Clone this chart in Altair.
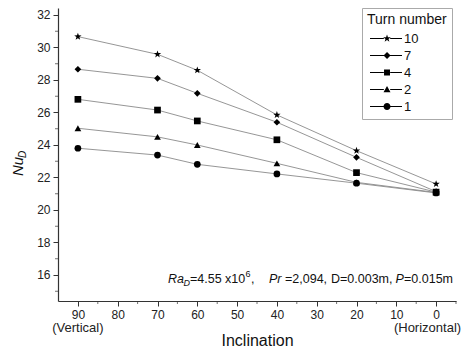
import math
import altair as alt
import pandas as pd

# ---- data ----
inclination = [90, 70, 60, 40, 20, 0]
turns = ["10", "7", "4", "2", "1"]
nu_10 = [30.67, 29.58, 28.60, 25.85, 23.65, 21.60]
nu_7 = [28.66, 28.10, 27.18, 25.40, 23.24, 21.13]
nu_4 = [26.81, 26.15, 25.48, 24.32, 22.30, 21.10]
nu_2 = [25.03, 24.50, 24.00, 22.87, 21.70, 21.08]
nu_1 = [23.80, 23.38, 22.81, 22.22, 21.65, 21.05]

x_ticks = [90, 80, 70, 60, 50, 40, 30, 20, 10, 0]
x_minor = [85, 75, 65, 55, 45, 35, 25, 15, 5, -5]
y_ticks = [16, 18, 20, 22, 24, 26, 28, 30, 32]
y_minor = [15, 17, 19, 21, 23, 25, 27, 29, 31]
end_labels = [90, 0]
end_texts = ["(Vertical)", "(Horizontal)"]

series = {"10": nu_10, "7": nu_7, "4": nu_4, "2": nu_2, "1": nu_1}
rows = []
for t in turns:
    for xi, yi in zip(inclination, series[t]):
        rows.append({"incl": xi, "nu": yi, "turn": t})
df = pd.DataFrame(rows)

FONT = "Liberation Sans"
W, H = 398, 293


def star_path(cx=0.0, r_out=1.15, r_in=0.46):
    pts = []
    for k in range(10):
        a = math.radians(-90 + 36 * k)
        r = r_out if k % 2 == 0 else r_in
        pts.append((cx + r * math.cos(a), r * math.sin(a)))
    return "M" + "L".join(f"{x:.3f},{y:.3f}" for x, y in pts) + "Z"


def legend_path(kind, dx=3.86, x0=-1.0, x1=8.14, t=0.12):
    segs = (
        f"M{x0:.2f},{-t}L{dx-0.9:.2f},{-t}L{dx-0.9:.2f},{t}L{x0:.2f},{t}Z"
        f"M{dx+0.9:.2f},{-t}L{x1:.2f},{-t}L{x1:.2f},{t}L{dx+0.9:.2f},{t}Z"
    )
    if kind == "star":
        m = star_path(dx)
    elif kind == "diamond":
        m = f"M{dx-1:.2f},0L{dx:.2f},-1L{dx+1:.2f},0L{dx:.2f},1Z"
    elif kind == "square":
        m = f"M{dx-0.85:.2f},-0.85L{dx+0.85:.2f},-0.85L{dx+0.85:.2f},0.85L{dx-0.85:.2f},0.85Z"
    elif kind == "triangle":
        m = f"M{dx:.2f},-1L{dx+1:.2f},0.8L{dx-1:.2f},0.8Z"
    else:
        m = f"M{dx-1:.2f},0A1,1 0 1,1 {dx+1:.2f},0A1,1 0 1,1 {dx-1:.2f},0Z"
    return segs + m


point_shapes = [star_path(), "diamond", "square", "triangle-up", "circle"]
legend_shapes = [legend_path(k) for k in ["star", "diamond", "square", "triangle", "circle"]]

xscale = alt.Scale(domain=[-5, 95], reverse=True, nice=False, zero=False)
yscale = alt.Scale(domain=[14.4, 32.43], nice=False, zero=False)

x_axis = alt.Axis(
    values=x_ticks,
    title="Inclination",
    titleFontSize=16,
    titleFontWeight="normal",
    titleFont=FONT,
    titleColor="#111",
    titleBaseline="alphabetic",
    titleY=44,
    labelFont=FONT,
    labelFontSize=12,
    labelColor="#222",
    labelPadding=3,
    tickSize=5,
    tickColor="#333",
    domainColor="#333",
    domainWidth=1.2,
    grid=False,
    labelOverlap=False,
)
y_axis = alt.Axis(
    values=y_ticks,
    title=None,
    labelFont=FONT,
    labelFontSize=12,
    labelColor="#222",
    labelPadding=3,
    tickSize=5,
    tickColor="#333",
    domainColor="#333",
    domainWidth=1.2,
    grid=False,
    labelOverlap=False,
)


def X(field):
    return alt.X(field, scale=xscale, axis=x_axis, title="Inclination")


def Y(field):
    return alt.Y(field, scale=yscale, axis=y_axis, title=None)


base = alt.Chart(df)

lines = base.mark_line(color="#8a8a8a", strokeWidth=0.9).encode(
    x=X("incl:Q"), y=Y("nu:Q"), detail="turn:N"
)

points = base.mark_point(filled=True, color="black", size=45, opacity=1).encode(
    x=X("incl:Q"),
    y=Y("nu:Q"),
    shape=alt.Shape("turn:N", scale=alt.Scale(domain=turns, range=point_shapes), legend=None),
)

legend_layer = base.mark_point(filled=True, color="black", size=49, clip=True).encode(
    x=alt.value(-300),
    y=alt.value(-300),
    shape=alt.Shape(
        "turn:N",
        sort=turns,
        scale=alt.Scale(domain=turns, range=legend_shapes),
        legend=alt.Legend(
            title="Turn number",
            orient="none",
            legendX=304,
            legendY=0,
            direction="vertical",
            padding=5,
            fillColor="white",
            strokeColor="#aaa",
            titleFont=FONT,
            titleFontSize=14,
            titleFontWeight="normal",
            titleColor="#111",
            titlePadding=5,
            labelFont=FONT,
            labelFontSize=13,
            labelColor="#111",
            labelOffset=24,
            rowPadding=3,
            symbolSize=49,
            symbolStrokeWidth=0,
            symbolFillColor="black",
            symbolOpacity=1,
        ),
    ),
)

xminor = alt.Chart(pd.DataFrame({"v": x_minor})).mark_tick(
    orient="vertical", size=3, thickness=1, color="#333"
).encode(x=X("v:Q"), y=alt.value(H + 1.5))

yminor = alt.Chart(pd.DataFrame({"v": y_minor})).mark_tick(
    orient="horizontal", size=3, thickness=1, color="#333"
).encode(y=Y("v:Q"), x=alt.value(-1.5))

end_df = pd.DataFrame({"v": end_labels, "t": end_texts})
end_vert = alt.Chart(end_df[end_df.v == 90]).mark_text(
    align="center", baseline="alphabetic", font=FONT, fontSize=13, color="#222"
).encode(x=X("v:Q"), y=alt.value(324), text="t:N")
end_horiz = alt.Chart(end_df[end_df.v == 0]).mark_text(
    align="right", baseline="alphabetic", font=FONT, fontSize=13, color="#222", dx=25
).encode(x=X("v:Q"), y=alt.value(324), text="t:N")


def label(txt, x, y, size=12.5, italic=False, angle=0):
    kw = dict(align="left", baseline="alphabetic", font=FONT, fontSize=size, color="#111")
    if italic:
        kw["fontStyle"] = "italic"
    if angle:
        kw["angle"] = angle
    return alt.Chart(alt.Data(values=[{}])).mark_text(**kw).encode(
        x=alt.value(x), y=alt.value(y), text=alt.value(txt)
    )


ann_y = 275
texts = [
    label("Ra", 110, ann_y, 12.5, True),
    label("D", 125.5, ann_y + 3, 9, True),
    label("=4.55 x10", 132, ann_y, 12.5),
    label("6", 187.5, ann_y - 6, 9),
    label(",", 193, ann_y, 12.5),
    label("Pr", 211, ann_y, 12.5, True),
    label("=2,094,", 227, ann_y, 12.5),
    label("D=0.003m,", 273, ann_y, 12.5),
    label("P", 337.5, ann_y, 12.5, True),
    label("=0.015m", 346, ann_y, 12.5),
    label("Nu", -35, 168, 15, True, 270),
    label("D", -32, 150, 10, True, 270),
]

chart = (
    alt.layer(lines, xminor, yminor, points, legend_layer, end_vert, end_horiz, *texts)
    .resolve_scale(shape="independent")
    .properties(
        width=W,
        height=H,
        autosize=alt.AutoSizeParams(type="none"),
        padding={"left": 50, "top": 0, "right": 6, "bottom": 49},
    )
    .configure_view(stroke=None)
)

chart.save("out.html", embed_options={"renderer": "svg", "actions": False})
